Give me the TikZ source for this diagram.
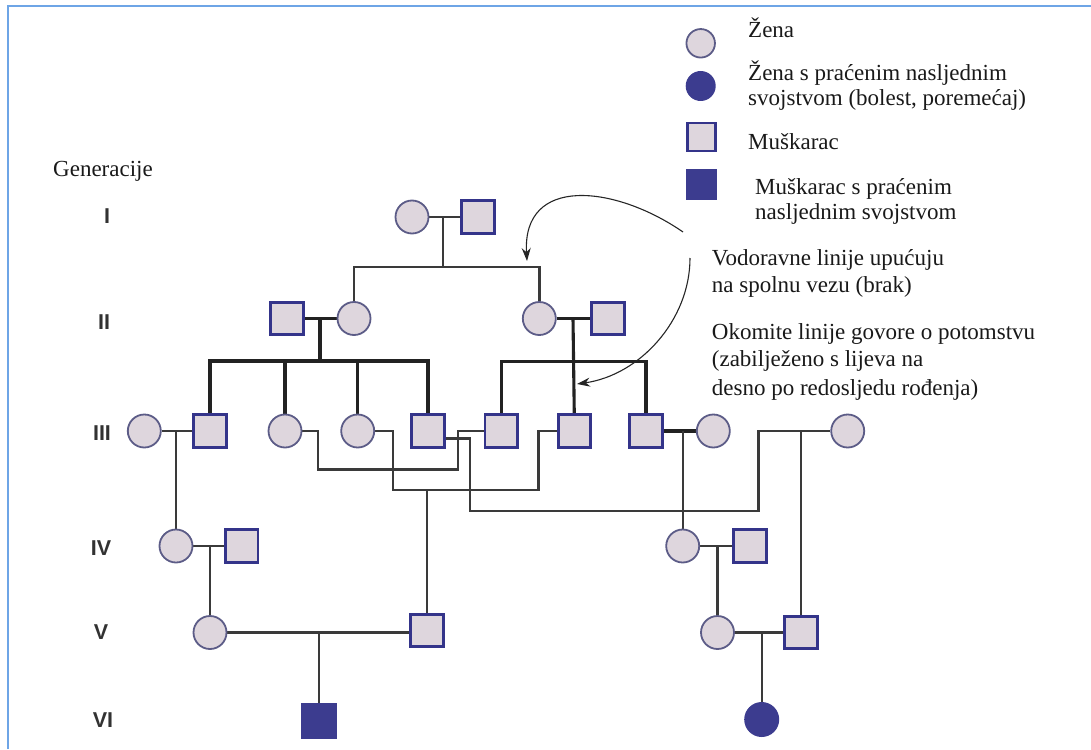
\documentclass[tikz,border=0pt]{standalone}
\usepackage{fontspec}
\setmainfont{Liberation Serif}
\newfontfamily\romfont{Liberation Sans}
\usetikzlibrary{arrows.meta,backgrounds}
\definecolor{symfill}{RGB}{222,214,221}
\definecolor{circstroke}{RGB}{92,92,135}
\definecolor{sqstroke}{RGB}{52,52,138}
\definecolor{affected}{RGB}{60,60,143}
\definecolor{linegray}{RGB}{58,58,58}
\definecolor{sibdark}{RGB}{34,34,34}
\definecolor{frameblue}{RGB}{110,165,230}
\definecolor{romgray}{RGB}{50,50,50}
\begin{document}
\begin{tikzpicture}[x=1pt,y=-1pt,
  fem/.style={circle,draw=circstroke,fill=symfill,line width=1.8pt,minimum size=33pt,inner sep=0pt},
  mal/.style={rectangle,draw=sqstroke,fill=symfill,line width=2.8pt,minimum size=32.5pt,inner sep=0pt},
  femA/.style={circle,fill=affected,minimum size=35pt,inner sep=0pt},
  malA/.style={rectangle,fill=affected,minimum size=36pt,inner sep=0pt},
  lfem/.style={circle,draw=circstroke,fill=symfill,line width=1.8pt,minimum size=28.5pt,inner sep=0pt},
  lfemA/.style={circle,fill=affected,minimum size=30pt,inner sep=0pt},
  lmal/.style={rectangle,draw=sqstroke,fill=symfill,line width=2.8pt,minimum size=28pt,inner sep=0pt},
  lmalA/.style={rectangle,fill=affected,minimum size=31pt,inner sep=0pt},
  rel/.style={draw=linegray,line width=2.4pt},
  sib/.style={draw=sibdark,line width=3.1pt},
  txt/.style={anchor=base west,inner sep=0pt,text=black!90,font=\fontsize{23}{27}\selectfont},
  gen/.style={inner sep=0pt,text=romgray,font=\romfont\bfseries\fontsize{21.5}{21.5}\selectfont},
  arr/.style={draw=black!85,line width=1.1pt,-{Stealth[length=13pt,width=9pt]}}
]
\useasboundingbox (0,0) rectangle (1091,749);
\draw[frameblue,line width=1.6pt] (8,749) -- (8,6) -- (1091,6);

% generation labels
\node[txt] (genlab) at (53,176.5) {Generacije};
\node[gen] (gI) at (107,216) {I};
\node[gen] (gII) at (104,322) {II};
\node[gen] (gIII) at (102,433) {III};
\node[gen] (gIV) at (101,548) {IV};
\node[gen] (gV) at (101,632) {V};
\node[gen] (gVI) at (103,720) {VI};

% legend
\node[lfem] (L1) at (700.7,43.3) {};
\node[lfemA] (L2) at (700.7,86) {};
\node[lmal] (L3) at (701.3,137) {};
\node[lmalA] (L4) at (701.5,184.5) {};
\node[txt] (t1) at (748,37.5) {Žena};
\node[txt] (t2a) at (748,81) {Žena s praćenim nasljednim};
\node[txt] (t2b) at (748,106) {svojstvom (bolest, poremećaj)};
\node[txt] (t3) at (748,149) {Muškarac};
\node[txt] (t4a) at (755,194.5) {Muškarac s praćenim};
\node[txt] (t4b) at (755,219) {nasljednim svojstvom};
\node[txt] (t5a) at (711.7,265.5) {Vodoravne linije upućuju};
\node[txt] (t5b) at (711.7,292.5) {na spolnu vezu (brak)};
\node[txt] (t6a) at (711.7,339.5) {Okomite linije govore o potomstvu};
\node[txt] (t6b) at (711.7,366.7) {(zabilježeno s lijeva na};
\node[txt] (t6c) at (711.7,395) {desno po redosljedu rođenja)};

% generation I
\node[fem] (I1) at (412,217) {};
\node[mal] (I2) at (478,217) {};
% generation II
\node[mal] (II1) at (287,318.5) {};
\node[fem] (II2) at (354,318.5) {};
\node[fem] (II3) at (539.3,318.5) {};
\node[mal] (II4) at (608,318.5) {};
% generation III
\node[fem] (III1) at (144.3,431) {};
\node[mal] (III2) at (210,431) {};
\node[fem] (III3) at (285,431) {};
\node[fem] (III4) at (357.7,431) {};
\node[mal] (III5) at (428,431) {};
\node[mal] (III6) at (501.3,431) {};
\node[mal] (III7) at (574.5,431) {};
\node[mal] (III8) at (646,431) {};
\node[fem] (III9) at (713.3,431) {};
\node[fem] (III10) at (847.7,431) {};
% generation IV
\node[fem] (IV1) at (176,546) {};
\node[mal] (IV2) at (241.7,546) {};
\node[fem] (IV3) at (682.7,546) {};
\node[mal] (IV4) at (750,546) {};
% generation V
\node[fem] (V1) at (210,632.5) {};
\node[mal] (V2) at (427,630.5) {};
\node[fem] (V3) at (717.5,632.5) {};
\node[mal] (V4) at (801,632.5) {};
% generation VI
\node[malA] (VI1) at (319,721) {};
\node[femA] (VI2) at (761.7,719.5) {};

% junction coordinates
\coordinate (jI) at (443,217);
\coordinate (sI) at (443,267);
\coordinate (jIIa) at (320,318.5);
\coordinate (sIIa) at (320,361);
\coordinate (jIIb) at (573,318.5);
\coordinate (sIIb) at (573,361.5);
\coordinate (jIIIa) at (176,431);
\coordinate (jIIIb) at (682.7,431);
\coordinate (a1) at (318,469.5);
\coordinate (a2) at (458,469.5);
\coordinate (b1) at (392.7,490);
\coordinate (b2) at (538.5,490);
\coordinate (bC) at (427,490);
\coordinate (c0) at (470,438.5);
\coordinate (c1) at (470,511);
\coordinate (c2) at (758.3,511);
\coordinate (cC) at (801,431);
\coordinate (jIVa) at (210,546);
\coordinate (jIVb) at (717.5,546);
\coordinate (jVa) at (319,632.5);
\coordinate (jVb) at (761.7,632.5);
\coordinate (ar1s) at (683,232);
\coordinate (ar1e) at (527,261);
\coordinate (ar2s) at (690,258);
\coordinate (ar2e) at (577,384);

\begin{pgfonlayer}{background}
% generation I family
\draw[rel] (I1) -- (I2);
\draw[rel] (jI) -- (sI);
\draw[rel] (II2) |- (sI) -| (II3);
% II left family
\draw[sib] (II1) -- (II2);
\draw[sib] (jIIa) -- (sIIa);
\draw[sib] (III2) |- (III5 |- sIIa) -- (III5);
\draw[sib] (III3) -- (III3 |- sIIa);
\draw[sib] (III4) -- (III4 |- sIIa);
% II right family
\draw[sib] (II3) -- (II4);
\draw[sib] (jIIb) -- (III7);
\draw[sib] (III6) |- (III8 |- sIIb) -- (III8);
% III marriages
\draw[rel] (III1) -- (III2);
\draw[rel] (jIIIa) -- (IV1);
\draw[sib] (III8) -- (III9);
\draw[rel] (jIIIb) -- (IV3);
\draw[rel] (III3) -| (a1) -- (a2) |- (III6);
\draw[rel] (III4) -| (b1) -- (b2) |- (III7);
\draw[rel] (bC) -- (V2);
\draw[rel] (III5 |- c0) -- (c0) -- (c1) -- (c2) |- (III10);
\draw[rel] (cC) -- (V4);
% IV marriages
\draw[rel] (IV1) -- (IV2);
\draw[rel] (jIVa) -- (V1);
\draw[rel] (IV3) -- (IV4);
\draw[rel] (jIVb) -- (V3);
% V marriages
\draw[rel] (V1) -- (V1 -| V2) -- (V2);
\draw[rel] (jVa) -- (VI1);
\draw[rel] (V3) -- (V4);
\draw[rel] (jVb) -- (VI2);
\end{pgfonlayer}

% explanatory arrows
\draw[arr] (ar1s) .. controls (615,185) and (522,175) .. (ar1e);
\draw[arr] (ar2s) .. controls (690,320) and (640,375) .. (ar2e);
\end{tikzpicture}
\end{document}
